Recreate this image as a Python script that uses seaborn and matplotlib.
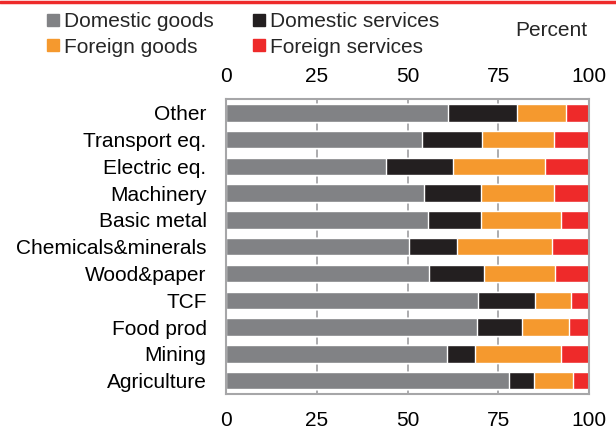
import numpy as np
import pandas as pd
import matplotlib
matplotlib.use("Agg")
import matplotlib.pyplot as plt
from matplotlib.lines import Line2D
import seaborn as sns

categories = ["Other", "Transport eq.", "Electric eq.", "Machinery", "Basic metal",
              "Chemicals&minerals", "Wood&paper", "TCF", "Food prod", "Mining", "Agriculture"]
domestic_goods = [61.0, 54.0, 44.0, 54.5, 55.6, 50.5, 55.9, 69.4, 69.1, 60.8, 78.0]
domestic_services = [19.1, 16.5, 18.4, 15.7, 14.6, 13.0, 15.1, 15.6, 12.3, 7.8, 6.8]
foreign_goods = [13.4, 19.8, 25.4, 20.2, 21.9, 26.3, 19.5, 10.0, 12.9, 23.6, 10.7]
foreign_services = [6.5, 9.7, 12.2, 9.6, 7.9, 10.2, 9.5, 5.0, 5.7, 7.8, 4.5]
series_names = ["Domestic goods", "Domestic services", "Foreign goods", "Foreign services"]
xticks = [0, 25, 50, 75, 100]

colors = ["#818285", "#231f20", "#f5992e", "#ee2a2a"]
FS = 15

sns.set_theme(style="white")
plt.rcParams['font.family'] = ['Liberation Sans', 'DejaVu Sans']

df = pd.DataFrame({"cat": categories,
                   "s0": domestic_goods, "s1": domestic_services,
                   "s2": foreign_goods, "s3": foreign_services})
cum = df[["s0", "s1", "s2", "s3"]].cumsum(axis=1)

fig = plt.figure(figsize=(6.16, 4.30), dpi=100)
ax = fig.add_axes([0.3669, 0.0837, 0.5898, 0.685])

for i in [3, 2, 1, 0]:
    sns.barplot(x=cum.iloc[:, i], y=df["cat"], orient="h", color=colors[i],
                width=0.65, saturation=1, ax=ax, order=categories, zorder=2)

ax.set_xlim(0, 100)
ax.set_xticks(xticks)
ax.set_xlabel("")
ax.set_ylabel("")
ax.xaxis.grid(True, color="#a6a6a8", linewidth=1.3, zorder=0)
ax.set_axisbelow(True)
ax.tick_params(axis="x", top=False, labeltop=False, bottom=True, labelbottom=True,
               length=0, pad=12, labelsize=FS, colors="black")
ax.tick_params(axis="y", length=0, pad=14, labelsize=FS, colors="black")
for sp in ax.spines.values():
    sp.set_visible(True)
    sp.set_color("#a6a6a8")
    sp.set_linewidth(1.5)

sec = ax.secondary_xaxis("top")
sec.set_xticks(xticks)
sec.tick_params(length=0, pad=10, labelsize=FS, colors="black")
sec.spines["top"].set_visible(False)

handles = [Line2D([], [], marker="s", linestyle="none", markersize=8.5, color=colors[i])
           for i in [0, 2, 1, 3]]
labels = [series_names[i] for i in [0, 2, 1, 3]]
fig.legend(handles, labels, ncol=2, loc="upper left", bbox_to_anchor=(0.053, 1.005),
           frameon=False, fontsize=FS, handlelength=0.6, handletextpad=0.2,
           columnspacing=1.9, labelspacing=0.3, borderaxespad=0.3)

fig.text(0.953, 0.93, "Percent", ha="right", va="center", fontsize=FS)
fig.add_artist(Line2D([0, 1], [0.9965, 0.9965], color="#ee2a2a", linewidth=2.5,
                      transform=fig.transFigure))

fig.savefig("out.png", dpi=100)
